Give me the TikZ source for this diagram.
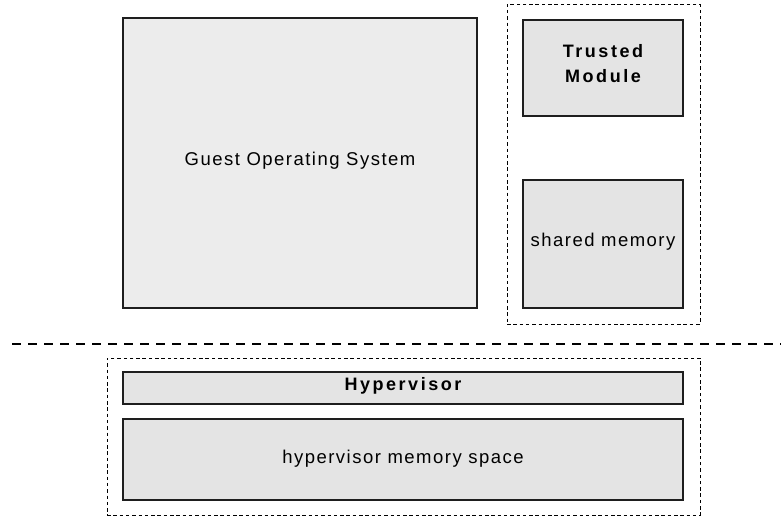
\documentclass[tikz,border=0pt]{standalone}
\usepackage{fontspec}
\setmainfont{Liberation Sans}
\newfontfamily\regsp[LetterSpace=8]{Liberation Sans}
\newfontfamily\boldsp[LetterSpace=14]{Liberation Sans Bold}
\definecolor{fillA}{RGB}{236,236,236}
\definecolor{fillB}{RGB}{228,228,228}
\definecolor{lineC}{RGB}{30,30,30}
\begin{document}
\begin{tikzpicture}[x=1pt,y=-1pt,
  solidbox/.style={draw=lineC,line width=1.4pt,fill=fillB,inner sep=0pt,
    minimum width=#1,text=black},
  groupbox/.style={draw=black,line width=1pt,dash pattern=on 3.5pt off 2.8pt,inner sep=0pt},
  regtext/.style={font=\fontsize{18.5}{25}\regsp},
  boldtext/.style={font=\fontsize{18}{25}\boldsp}]
\useasboundingbox (0,0) rectangle (781,520);
% groups
\node[groupbox,minimum width=193pt,minimum height=320pt] (tgroup) at (603.5,164) {};
\node[groupbox,minimum width=593pt,minimum height=157pt] (hgroup) at (403.5,436.5) {};
% boxes
\node[solidbox=354pt,fill=fillA,minimum height=290pt] (guest) at (300,163) {};
\node[regtext] (guesttxt) at (300,161) {Guest Operating System};
\node[solidbox=160pt,minimum height=96pt] (tm) at (603,68) {};
\node[boldtext,align=center] (tmtxt) at (603,64) {Trusted\\Module};
\node[solidbox=160pt,minimum height=128pt] (shm) at (603,244) {};
\node[regtext] (shmtxt) at (603,242) {shared memory};
\node[solidbox=560pt,minimum height=32pt] (hyp) at (403,388) {};
\node[boldtext] (hyptxt) at (403,386) {Hypervisor};
\node[solidbox=560pt,minimum height=81pt] (hmem) at (403,459.5) {};
\node[regtext] (hmemtxt) at (403,459) {hypervisor memory space};
% separator
\coordinate (sepL) at (12,344);
\coordinate (sepR) at (781,344);
\draw[line width=2.6pt,dash pattern=on 9pt off 7pt,black] (sepL) -- (sepR);
\end{tikzpicture}
\end{document}
